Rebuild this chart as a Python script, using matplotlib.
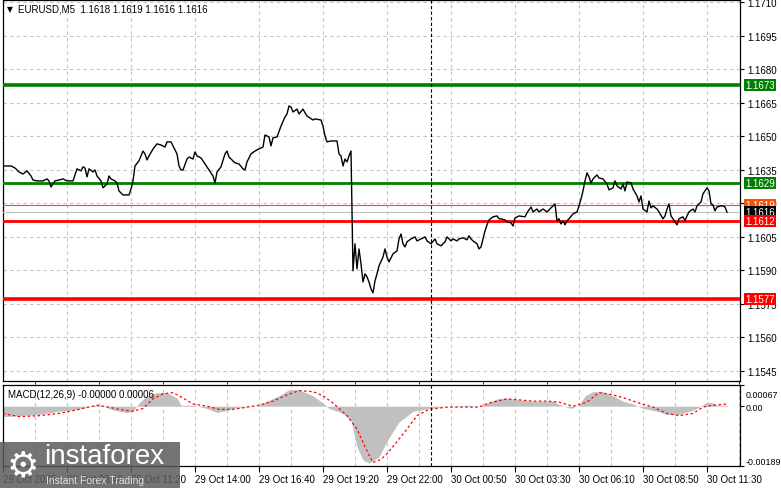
import matplotlib
matplotlib.use("Agg")
import matplotlib.pyplot as plt
from matplotlib.patches import Rectangle
from matplotlib.transforms import blended_transform_factory, ScaledTranslation

plt.rcParams["font.family"] = ["Liberation Sans", "DejaVu Sans"]

# EURUSD M5 close (bar number, price)
bar_idx = [0, 4, 6, 8, 10, 12, 14, 15, 17, 20, 22, 23, 24, 26, 28, 30, 32, 35, 37, 39,
           40, 41, 42, 43, 45, 46, 47, 49, 50, 52, 53, 54, 56, 57, 58, 60, 63, 64, 65, 66,
           68, 70, 71, 72, 73, 75, 77, 79, 81, 82, 84, 85, 87, 88, 89, 90, 92, 93, 95, 96,
           97, 99, 101, 103, 105, 106, 107, 109, 111, 112, 113, 115, 116, 118, 120, 121, 122, 124, 126, 127,
           130, 131, 133, 134, 135, 137, 139, 141, 142, 143, 144, 145, 147, 148, 150, 151, 152, 155, 156, 159,
           160, 161, 162, 164, 167, 168, 169, 170, 171, 172, 173, 174, 175, 176, 177, 178, 179, 180, 181, 182,
           183, 184, 185, 186, 187, 188, 190, 191, 192, 193, 195, 197, 198, 199, 200, 201, 202, 204, 206, 207,
           209, 211, 212, 214, 216, 217, 219, 221, 222, 224, 225, 227, 228, 230, 232, 233, 234, 235, 237, 238,
           239, 240, 241, 242, 243, 245, 247, 248, 249, 251, 252, 254, 255, 256, 258, 261, 262, 264, 265, 267,
           268, 270, 272, 273, 275, 276, 277, 278, 279, 280, 281, 282, 283, 285, 287, 288, 289, 290, 291, 292,
           293, 294, 295, 297, 298, 300, 302, 303, 305, 306, 307, 309, 310, 311, 312, 314, 315, 317, 318, 319,
           320, 322, 323, 324, 325, 327, 328, 330, 331, 332, 333, 334, 335, 336, 337, 338, 340, 341, 342, 343,
           345, 346, 347, 349, 350, 352, 353, 354, 355, 356, 357, 359, 360, 361, 362]
close_px = [1.16367, 1.16367, 1.16358, 1.16340, 1.16331, 1.16345, 1.16322, 1.16304, 1.16300, 1.16300,
            1.16309, 1.16300, 1.16273, 1.16300, 1.16304, 1.16309, 1.16300, 1.16300, 1.16354, 1.16345,
            1.16363, 1.16358, 1.16318, 1.16354, 1.16340, 1.16349, 1.16322, 1.16300, 1.16269, 1.16286,
            1.16322, 1.16309, 1.16300, 1.16291, 1.16255, 1.16237, 1.16237, 1.16264, 1.16300, 1.16367,
            1.16390, 1.16434, 1.16421, 1.16394, 1.16412, 1.16443, 1.16466, 1.16461, 1.16452, 1.16475,
            1.16475, 1.16457, 1.16421, 1.16367, 1.16349, 1.16349, 1.16398, 1.16407, 1.16398, 1.16430,
            1.16412, 1.16403, 1.16376, 1.16349, 1.16322, 1.16291, 1.16340, 1.16363, 1.16421, 1.16434,
            1.16407, 1.16390, 1.16381, 1.16376, 1.16354, 1.16349, 1.16385, 1.16421, 1.16434, 1.16439,
            1.16452, 1.16506, 1.16497, 1.16457, 1.16493, 1.16497, 1.16546, 1.16587, 1.16600, 1.16636,
            1.16631, 1.16609, 1.16622, 1.16600, 1.16622, 1.16605, 1.16591, 1.16573, 1.16578, 1.16573,
            1.16546, 1.16502, 1.16475, 1.16479, 1.16479, 1.16421, 1.16412, 1.16367, 1.16398, 1.16385,
            1.16412, 1.16434, 1.15897, 1.16018, 1.15906, 1.15995, 1.15928, 1.15847, 1.15883, 1.15870,
            1.15847, 1.15816, 1.15798, 1.15852, 1.15883, 1.15919, 1.15959, 1.15995, 1.15959, 1.15937,
            1.15973, 1.15986, 1.16040, 1.16062, 1.16018, 1.16004, 1.16027, 1.16040, 1.16049, 1.16031,
            1.16040, 1.16049, 1.16031, 1.16018, 1.16040, 1.16018, 1.16009, 1.16027, 1.16049, 1.16031,
            1.16040, 1.16031, 1.16040, 1.16045, 1.16036, 1.16054, 1.16040, 1.16031, 1.16018, 1.15995,
            1.16004, 1.16040, 1.16076, 1.16103, 1.16125, 1.16139, 1.16143, 1.16130, 1.16130, 1.16125,
            1.16116, 1.16112, 1.16098, 1.16134, 1.16143, 1.16139, 1.16157, 1.16183, 1.16161, 1.16174,
            1.16161, 1.16174, 1.16161, 1.16170, 1.16188, 1.16197, 1.16121, 1.16130, 1.16107, 1.16121,
            1.16103, 1.16121, 1.16130, 1.16152, 1.16161, 1.16188, 1.16219, 1.16255, 1.16300, 1.16336,
            1.16318, 1.16291, 1.16309, 1.16327, 1.16313, 1.16309, 1.16286, 1.16260, 1.16269, 1.16300,
            1.16278, 1.16264, 1.16286, 1.16255, 1.16295, 1.16291, 1.16264, 1.16233, 1.16206, 1.16233,
            1.16174, 1.16161, 1.16210, 1.16179, 1.16188, 1.16174, 1.16161, 1.16130, 1.16143, 1.16174,
            1.16197, 1.16143, 1.16130, 1.16116, 1.16103, 1.16130, 1.16139, 1.16121, 1.16143, 1.16161,
            1.16174, 1.16161, 1.16188, 1.16206, 1.16242, 1.16269, 1.16255, 1.16197, 1.16192, 1.16166,
            1.16183, 1.16188, 1.16188, 1.16183, 1.16160]

# MACD(12,26,9) histogram and signal
hist_idx = [0, 8, 18, 28, 37, 43, 48, 55, 62, 65, 68, 72, 77, 82, 87, 89, 95, 102, 107, 112,
            118, 127, 132, 138, 143, 148, 155, 160, 163, 170, 174, 175, 177, 180, 183, 188, 193, 198, 205, 213,
            222, 232, 239, 242, 247, 252, 258, 265, 275, 279, 284, 288, 291, 295, 300, 305, 310, 315, 320, 327,
            332, 338, 345, 349, 352, 355, 357, 362]
hist_val = [-0.00033, -0.00030, -0.00026, -0.00016, -0.00010, 0.0, 0.00005, -0.00012, -0.00020, -0.00016,
            0.00010, 0.00033, 0.00043, 0.00043, 0.00026, 0.00003, 0.00003, -0.00007, -0.00020, -0.00013,
            -0.00003, 0.0, 0.00016, 0.00033, 0.00052, 0.00052, 0.00033, 0.00010, -0.00007, -0.00023,
            -0.00046, -0.00072, -0.00128, -0.00170, -0.00180, -0.00160, -0.00100, -0.00050, -0.00016, -0.00007,
            0.0, 0.00003, 0.0, 0.00010, 0.00023, 0.00026, 0.00020, 0.00016, 0.00016, 0.00003,
            -0.00007, 0.00003, 0.00033, 0.00046, 0.00046, 0.00033, 0.00016, 0.00007, -0.00007, -0.00016,
            -0.00026, -0.00026, -0.00013, 0.0, 0.00013, 0.00010, 0.00003, 0.00003]
sig_idx = [0, 8, 18, 28, 38, 47, 53, 58, 65, 70, 75, 80, 85, 90, 95, 102, 108, 115, 122, 128,
           135, 142, 148, 155, 160, 165, 172, 177, 181, 185, 189, 192, 196, 202, 207, 213, 222, 230, 238, 243,
           252, 258, 265, 272, 278, 285, 292, 298, 305, 312, 318, 325, 332, 338, 345, 350, 355, 362]
sig_val = [-0.00023, -0.00033, -0.00030, -0.00023, -0.00010, 0.00003, -0.00003, -0.00010, -0.00016, -0.00007,
           0.00023, 0.00039, 0.00043, 0.00026, 0.00007, 0.0, -0.00010, -0.00010, -0.00003, 0.00003,
           0.00016, 0.00036, 0.00049, 0.00046, 0.00033, 0.00010, -0.00030, -0.00072, -0.00128, -0.00178,
           -0.00168, -0.00150, -0.00120, -0.00072, -0.00030, -0.00010, -0.00003, -0.00003, -0.00003, 0.00010,
           0.00023, 0.00020, 0.00016, 0.00016, 0.00013, 0.0, 0.00013, 0.00043, 0.00036, 0.00023,
           0.00010, -0.00003, -0.00023, -0.00030, -0.00023, -0.00003, 0.00003, 0.00007]

price_ticks = [1.1545, 1.1560, 1.1575, 1.1590, 1.1605, 1.1620, 1.1635, 1.1650, 1.1665, 1.1680, 1.1695, 1.1710]
levels = [1.1673, 1.1629, 1.1612, 1.1577]
level_colors = ["#008000", "#008000", "#ff0000", "#ff0000"]
level_widths = [2.6, 2.0, 2.0, 2.6]
ask_price = 1.1619
bid_price = 1.1616
time_labels = ["29 Oct 2025", "29 Oct 08:40", "29 Oct 11:20", "29 Oct 14:00", "29 Oct 16:40",
               "29 Oct 19:20", "29 Oct 22:00", "30 Oct 00:50", "30 Oct 03:30", "30 Oct 06:10",
               "30 Oct 08:50", "30 Oct 11:30"]
day_split = 214
macd_range = (-0.00189, 0.00067)

W, H = 781, 489
GRID = dict(color="#c4c4c4", linestyle=(0, (3, 3)), linewidth=0.8)


def px_box(x0, y0, x1, y1):
    # pixel box of the reference image -> figure fractions
    return [x0 / W, 1 - y1 / H, (x1 - x0) / W, (y1 - y0) / H]


fig = plt.figure(figsize=(W / 100, H / 100), dpi=100)
ax = fig.add_axes(px_box(3, 1, 740, 382))
ax2 = fig.add_axes(px_box(3, 386, 740, 467), sharex=ax)

# ---- price panel
ax.set_xlim(0, 368.5)
ax.set_ylim(1.15403, 1.17111)
ax.yaxis.tick_right()
ax.set_yticks(price_ticks)
ax.set_yticklabels([f"{t:.4f}" for t in price_ticks])
ax.tick_params(axis="y", direction="out", length=3, width=0.8, labelsize=7, pad=2)
ax.set_xticks(range(0, 369, 16))
ax.tick_params(axis="x", length=0, labelbottom=False)
ax.grid(True, **GRID)
ax.set_axisbelow(True)

for lvl, col, lw in zip(levels, level_colors, level_widths):
    ax.axhline(lvl, color=col, linewidth=lw, zorder=3)
ax.axhline(ask_price, color="#ff4d00", linewidth=0.8, zorder=3)
ax.axhline(bid_price, color="#c0c0c0", linewidth=0.8, zorder=3)
ax.axvline(day_split, color="black", linewidth=0.8, linestyle=(0, (3, 2)), zorder=4)
ax.plot(bar_idx, close_px, color="black", linewidth=1.0, zorder=5)

tr = blended_transform_factory(ax.transAxes, ax.transData)
tags = [(ask_price, "#ff4d00"), (bid_price, "black")] + list(zip(levels, level_colors))
for val, col in tags:
    ax.text(1.0 + 5 / 737, val, f"{val:.4f}", transform=tr, ha="left", va="center",
            fontsize=7, color="white", zorder=10, clip_on=False,
            bbox=dict(boxstyle="square,pad=0.12", fc=col, ec="none"))

for sp in ax.spines.values():
    sp.set_linewidth(0.9)

# ---- MACD panel
ax2.set_ylim(*macd_range)
ax2.fill_between(hist_idx, 0, hist_val, color="#c0c0c0", linewidth=0, zorder=2)
ax2.plot(sig_idx, sig_val, color="red", linewidth=0.9, linestyle=(0, (2, 2)), zorder=3)
ax2.axvline(day_split, color="black", linewidth=0.8, linestyle=(0, (3, 2)), zorder=4)
ax2.yaxis.tick_right()
ax2.set_yticks([macd_range[1], 0.0, macd_range[0]])
ax2.set_yticklabels(["0.00067", "0.00", "-0.00189"])
ax2.tick_params(axis="y", direction="out", length=3, width=0.8, labelsize=6.4, pad=1)
ylabs = ax2.get_yticklabels()
ylabs[0].set_transform(ylabs[0].get_transform() + ScaledTranslation(0, -6 / 72, fig.dpi_scale_trans))
ylabs[2].set_transform(ylabs[2].get_transform() + ScaledTranslation(0, 4 / 72, fig.dpi_scale_trans))
ax2.set_xticks([32 * k for k in range(len(time_labels))])
ax2.set_xticklabels(time_labels, ha="left")
ax2.set_xticks(range(0, 369, 16), minor=True)
ax2.tick_params(axis="x", which="major", direction="out", length=4, width=0.8, labelsize=7, pad=2)
ax2.tick_params(axis="x", which="minor", length=0)
ax2.grid(True, axis="x", which="both", **GRID)
ax2.set_axisbelow(True)
for sp in ax2.spines.values():
    sp.set_linewidth(0.9)
ax.set_xlim(0, 368.5)

# ---- captions
fig.text(7 / W, 1 - 10 / H, "\u25bc", fontsize=5.5, va="center", family=["DejaVu Sans"])
fig.text(18 / W, 1 - 10 / H, "EURUSD,M5  1.1618 1.1619 1.1616 1.1616", fontsize=7, va="center")
fig.text(8 / W, 1 - 395 / H, "MACD(12,26,9) -0.00000 0.00006", fontsize=7, va="center")

# ---- watermark
fig.add_artist(Rectangle((0, 0), 180 / W, 46 / H, transform=fig.transFigure,
                         facecolor="#5c5c5c", edgecolor="none", alpha=0.85, zorder=20))
fig.text(23 / W, 1 - 466 / H, "\u2699", fontsize=26, color="white", ha="center", va="center",
         family=["DejaVu Sans"], zorder=21)
fig.text(44 / W, 1 - 457 / H, "instaforex", fontsize=20, color="white", va="center", zorder=21)
fig.text(46 / W, 1 - 481 / H, "Instant Forex Trading", fontsize=7.5, color="#e0e0e0",
         va="center", zorder=21)

fig.savefig("out.png", dpi=100)
